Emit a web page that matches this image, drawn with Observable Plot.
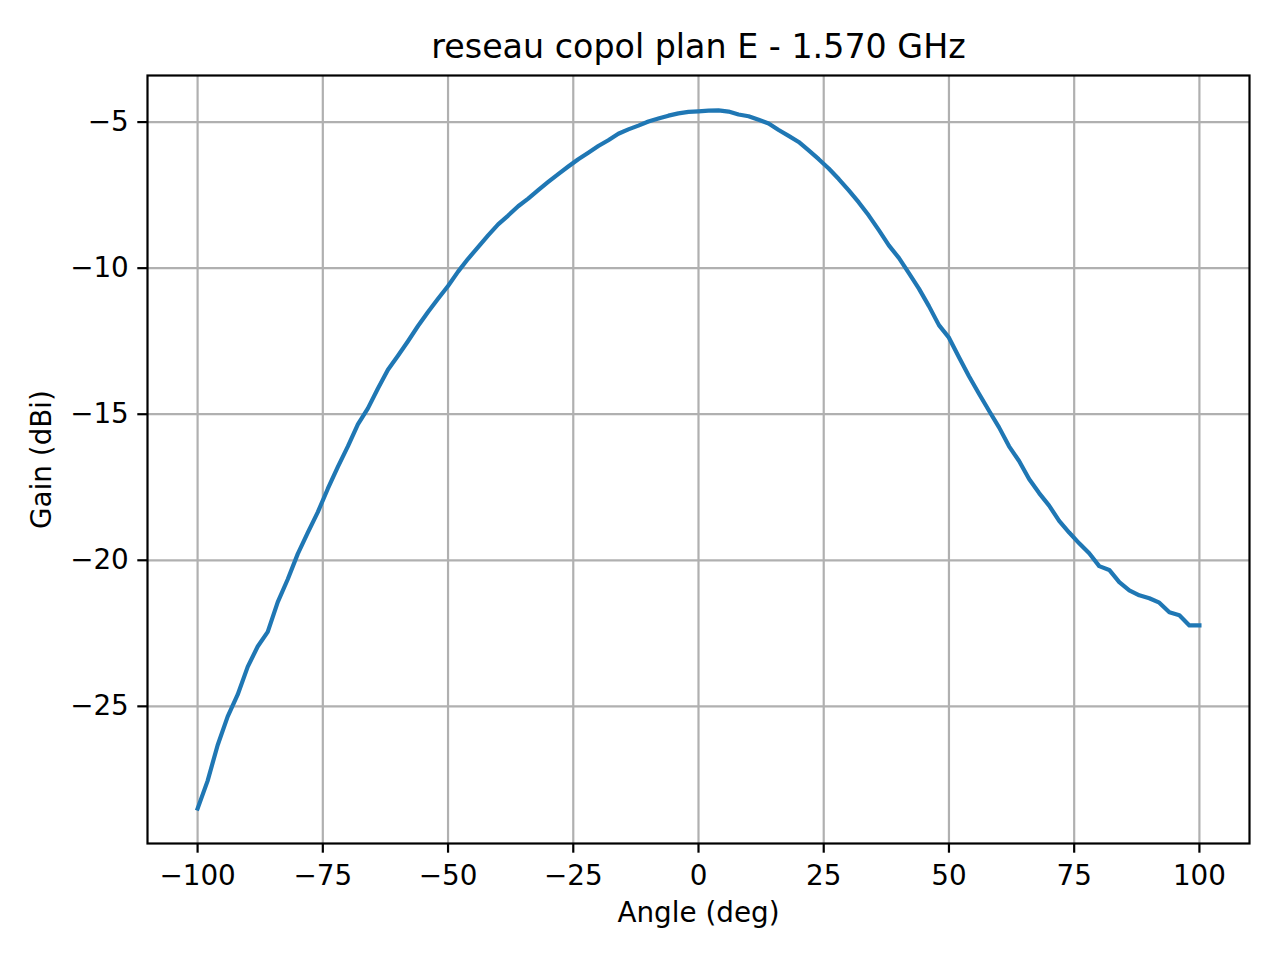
<!DOCTYPE html>
<html>
<head>
<meta charset="utf-8">
<script src="https://cdn.jsdelivr.net/npm/d3@7"></script>
<script src="https://cdn.jsdelivr.net/npm/@observablehq/plot@0.6"></script>
<style>
  html, body { margin: 0; padding: 0; background: #fff; }
  svg { display: block; }
</style>
</head>
<body>
<div id="chart"></div>
<script>
const titleText = "reseau copol plan E - 1.570 GHz";
const xLabel = "Angle (deg)";
const yLabel = "Gain (dBi)";

const angles = [
  -100, -98, -96, -94, -92, -90, -88, -86, -84, -82,
  -80, -78, -76, -74, -72, -70, -68, -66, -64, -62,
  -60, -58, -56, -54, -52, -50, -48, -46, -44, -42,
  -40, -38, -36, -34, -32, -30, -28, -26, -24, -22,
  -20, -18, -16, -14, -12, -10, -8, -6, -4, -2,
  0, 2, 4, 6, 8, 10, 12, 14, 16, 18,
  20, 22, 24, 26, 28, 30, 32, 34, 36, 38,
  40, 42, 44, 46, 48, 50, 52, 54, 56, 58,
  60, 62, 64, 66, 68, 70, 72, 74, 76, 78,
  80, 82, 84, 86, 88, 90, 92, 94, 96, 98,
  100
];

const gains = [
  -28.50, -27.55, -26.33, -25.35, -24.60, -23.65, -22.95, -22.45, -21.43, -20.65,
  -19.78, -19.05, -18.35, -17.55, -16.80, -16.10, -15.35, -14.80, -14.12, -13.48,
  -13.00, -12.50, -11.98, -11.50, -11.05, -10.61, -10.12, -9.68, -9.28, -8.88,
  -8.50, -8.20, -7.88, -7.62, -7.33, -7.05, -6.78, -6.52, -6.27, -6.05,
  -5.82, -5.62, -5.40, -5.25, -5.12, -4.98, -4.88, -4.78, -4.70, -4.65,
  -4.63, -4.61, -4.60, -4.64, -4.74, -4.80, -4.92, -5.05, -5.27, -5.47,
  -5.68, -5.97, -6.27, -6.59, -6.95, -7.34, -7.75, -8.20, -8.70, -9.22,
  -9.65, -10.17, -10.70, -11.30, -11.95, -12.38, -13.05, -13.70, -14.30, -14.88,
  -15.45, -16.10, -16.60, -17.22, -17.70, -18.13, -18.65, -19.05, -19.42, -19.76,
  -20.20, -20.33, -20.75, -21.03, -21.20, -21.30, -21.45, -21.78, -21.88, -22.23,
  -22.23
];

const xTicks = [-100, -75, -50, -25, 0, 25, 50, 75, 100];
const yTicks = [-25, -20, -15, -10, -5];

const data = angles.map((a, i) => ({angle: a, gain: gains[i]}));
const fmt = d => d < 0 ? "\u2212" + Math.abs(d) : String(d);

const chart = Plot.plot({
  width: 1280,
  height: 960,
  marginLeft: 147,
  marginRight: 31,
  marginTop: 75,
  marginBottom: 117,
  style: {fontFamily: "DejaVu Sans", fontSize: "27.8px", background: "#fff", color: "#000"},
  x: {domain: [-110, 110]},
  y: {domain: [-29.695, -3.405]},
  marks: [
    Plot.gridX(xTicks, {stroke: "#b0b0b0", strokeOpacity: 1, strokeWidth: 2.2}),
    Plot.gridY(yTicks, {stroke: "#b0b0b0", strokeOpacity: 1, strokeWidth: 2.2}),
    Plot.line(data, {x: "angle", y: "gain", stroke: "#1f77b4", strokeWidth: 4.2, strokeLinejoin: "round", strokeLinecap: "square"}),
    Plot.frame({stroke: "#000", strokeWidth: 2.2}),
    Plot.axisX(xTicks, {tickSize: 9.7, tickPadding: 12, tickFormat: fmt, fontSize: 27.8, label: null, strokeWidth: 2.2, stroke: "#000", fill: "#000"}),
    Plot.axisY(yTicks, {tickSize: 9.7, tickPadding: 9, tickFormat: fmt, fontSize: 27.8, label: null, strokeWidth: 2.2, stroke: "#000", fill: "#000"}),
    Plot.text([xLabel], {frameAnchor: "bottom", lineAnchor: "middle", dy: 70, fontSize: 27.8, fill: "#000"}),
    Plot.text([yLabel], {frameAnchor: "left", lineAnchor: "middle", textAnchor: "middle", dx: -105, rotate: -90, fontSize: 27.8, fill: "#000"}),
    Plot.text([titleText], {frameAnchor: "top", lineAnchor: "middle", dy: -28, fontSize: 33.3, fill: "#000"})
  ]
});
document.getElementById("chart").appendChild(chart);
</script>
</body>
</html>
